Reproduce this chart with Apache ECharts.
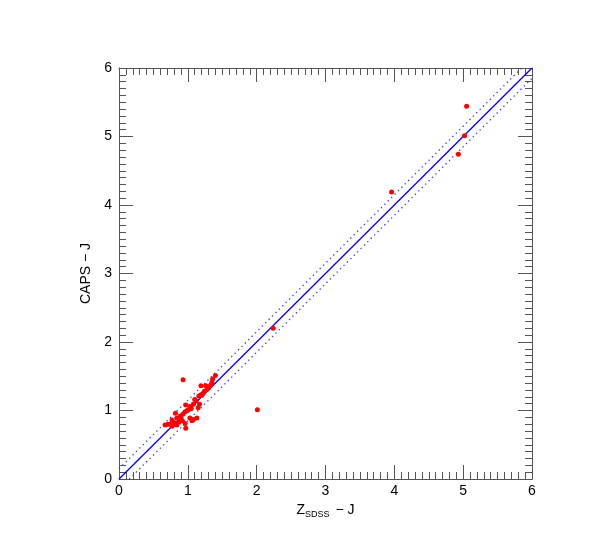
<!DOCTYPE html>
<html>
<head>
<meta charset="utf-8">
<script src="https://cdn.jsdelivr.net/npm/echarts@6/dist/echarts.min.js"></script>
<style>html,body{margin:0;padding:0;background:#fff}#c{width:612px;height:557px}</style>
</head>
<body>
<div id="c"></div>
<script>
// Z_SDSS - J values
const zsdssJ = [5.05, 5.02, 4.93, 3.96, 2.24, 2.01, 0.93,
  1.40, 1.36, 1.35, 1.33, 1.26, 1.19, 1.28, 1.22, 1.19, 1.16, 1.10, 1.17, 1.15, 1.08, 1.03, 1.01, 0.97,
  0.96, 0.93, 0.89, 0.84, 0.82, 1.03, 1.08, 1.13, 1.06, 0.96, 0.97, 0.84, 0.79, 0.77, 0.71, 0.67,
  0.87, 0.92, 0.77, 0.74, 1.12, 1.20, 1.24, 0.99, 0.90, 0.80, 1.05, 1.30];
// CAPS - J values
const capsJ = [5.44, 5.01, 4.74, 4.19, 2.20, 1.01, 1.45,
  1.51, 1.46, 1.41, 1.37, 1.36, 1.36, 1.31, 1.25, 1.23, 1.21, 1.16, 1.09, 1.04, 1.09, 1.06, 1.01, 1.08,
  0.98, 0.95, 0.92, 0.89, 0.96, 0.89, 0.87, 0.89, 0.85, 0.81, 0.74, 0.79, 0.79, 0.77, 0.80, 0.79,
  0.83, 0.85, 0.86, 0.80, 1.14, 1.22, 1.28, 1.00, 0.90, 0.82, 1.03, 1.33];
// one-to-one line and +/- offset lines
const lineX = [0, 6];
const offset = 0.15;

const axisRange = [0, 6];

const pts = zsdssJ.map((x, i) => [x, capsJ[i]]);
const oneToOne = lineX.map(x => [x, x]);
const upper = lineX.map(x => [x, x + offset]);
const lower = lineX.map(x => [x, x - offset]);

const tickColor = '#555';
const font = 'Liberation Sans, Arial, Helvetica, sans-serif';
function axisBase(pos, show) {
  return {
    type: 'value', position: pos, min: axisRange[0], max: axisRange[1], interval: 1,
    axisLine: {show: true, onZero: false, lineStyle: {color: tickColor, width: 1}},
    axisTick: {show: true, inside: true, length: 14, lineStyle: {color: tickColor, width: 1}},
    minorTick: {show: true, splitNumber: 10, length: 7, lineStyle: {color: tickColor, width: 1}},
    splitLine: {show: false}, minorSplitLine: {show: false},
    axisLabel: {show: show, color: '#000', fontSize: 14, fontFamily: font, margin: 5}
  };
}
const chart = echarts.init(document.getElementById('c'), null, {renderer: 'canvas'});
const xBottom = Object.assign(axisBase('bottom', true), {
  name: '{z|Z}{s|SDSS}{z| − J}', nameLocation: 'middle', nameGap: 22,
  nameTextStyle: {
    rich: {
      z: {fontSize: 14, fontFamily: font, color: '#000', lineHeight: 14, verticalAlign: 'top'},
      s: {fontSize: 9, fontFamily: font, color: '#000', lineHeight: 16, verticalAlign: 'bottom', padding: [0, 2, 0, 0]}
    }
  }
});
const yLeft = Object.assign(axisBase('left', true), {
  name: 'CAPS − J', nameLocation: 'middle', nameGap: 22,
  nameTextStyle: {fontSize: 14, fontFamily: font, color: '#000'}
});
yLeft.axisLabel.margin = 7;
chart.setOption({
  animation: false,
  backgroundColor: '#fff',
  grid: {left: 119, right: 80, top: 68, bottom: 78},
  xAxis: [xBottom, axisBase('top', false)],
  yAxis: [yLeft, axisBase('right', false)],
  series: [
    {type: 'line', data: oneToOne, symbol: 'none', lineStyle: {color: '#0000ff', width: 1.3}, z: 2},
    {type: 'line', data: upper, symbol: 'none', lineStyle: {color: '#3333ff', width: 1.3, type: [1.3, 3.5]}, z: 2},
    {type: 'line', data: lower, symbol: 'none', lineStyle: {color: '#3333ff', width: 1.3, type: [1.3, 3.5]}, z: 2},
    {type: 'scatter', data: pts, symbolSize: 5, itemStyle: {color: '#ff0000', opacity: 1}, z: 3}
  ]
});
</script>
</body>
</html>
